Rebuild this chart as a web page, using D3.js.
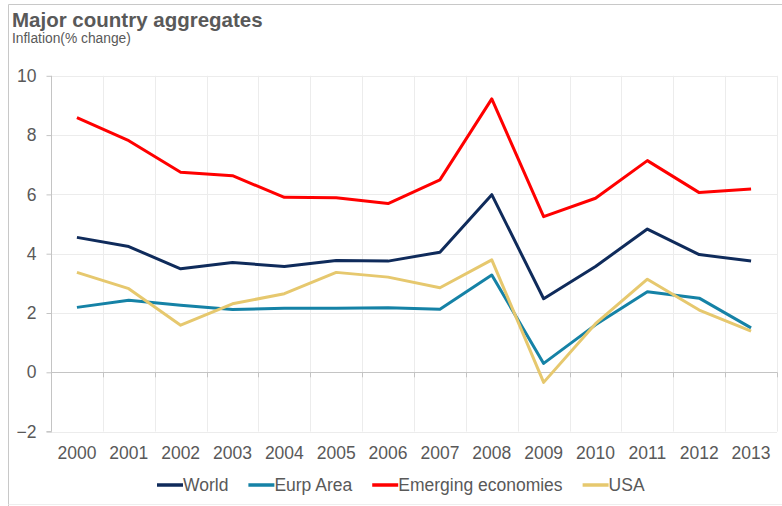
<!DOCTYPE html>
<html>
<head>
<meta charset="utf-8">
<script src="https://cdn.jsdelivr.net/npm/d3@7"></script>
<style>
  html, body { margin: 0; padding: 0; background: #fff; }
  svg { display: block; font-family: "Liberation Sans", Arial, sans-serif; }
</style>
</head>
<body>
<svg id="chart" width="782" height="506"></svg>
<script>
// Inflation, % change, by year
const years = ["2000","2001","2002","2003","2004","2005","2006","2007","2008","2009","2010","2011","2012","2013"];
const world    = [4.55, 4.24, 3.49, 3.70, 3.57, 3.77, 3.75, 4.05, 5.99, 2.48, 3.57, 4.83, 3.97, 3.75];
const eurpArea = [2.19, 2.43, 2.26, 2.12, 2.16, 2.16, 2.18, 2.13, 3.28, 0.30, 1.60, 2.72, 2.50, 1.50];
const emerging = [8.59, 7.81, 6.75, 6.63, 5.90, 5.89, 5.69, 6.49, 9.22, 5.25, 5.87, 7.14, 6.06, 6.18];
const usa      = [3.37, 2.82, 1.59, 2.31, 2.65, 3.37, 3.21, 2.85, 3.79, -0.34, 1.64, 3.14, 2.10, 1.39];
const yTicks   = [-2, 0, 2, 4, 6, 8, 10];

const series = [
  { name: "World",              values: world,    color: "#0f2b5b" },
  { name: "Eurp Area",          values: eurpArea, color: "#1582a6" },
  { name: "Emerging economies", values: emerging, color: "#ff0000" },
  { name: "USA",                values: usa,      color: "#e6c86e" }
];

const svg = d3.select("#chart");
const textColor = "#595959";
const gridColor = "#ececec";
const axisColor = "#c4c4c4";
const labelSize = 17.5;

// frame around the chart
svg.append("line").attr("x1", 8.5).attr("x2", 782).attr("y1", 4.5).attr("y2", 4.5)
  .attr("stroke", "#c8c8c8").attr("stroke-width", 1);
svg.append("line").attr("x1", 8.5).attr("x2", 8.5).attr("y1", 4.5).attr("y2", 506)
  .attr("stroke", "#c8c8c8").attr("stroke-width", 1);
svg.append("line").attr("x1", 8.5).attr("x2", 782).attr("y1", 504.5).attr("y2", 504.5)
  .attr("stroke", "#eeeeee").attr("stroke-width", 1);

// titles
svg.append("text").attr("x", 12).attr("y", 27)
  .attr("font-size", 20.5).attr("font-weight", "bold").attr("fill", textColor)
  .text("Major country aggregates");
svg.append("text").attr("x", 12).attr("y", 43)
  .attr("font-size", 13.8).attr("fill", textColor)
  .text("Inflation(% change)");

const x = d3.scaleBand().domain(years).range([51, 777]).padding(0);
const y = d3.scaleLinear().domain([-2, 10]).range([431.6, 75.8]);
const xc = d => x(d) + x.bandwidth() / 2;

const plot = svg.append("g");

// horizontal gridlines
plot.selectAll("line.hgrid").data(yTicks.filter(t => t !== 0)).join("line")
  .attr("class", "hgrid")
  .attr("x1", x.range()[0]).attr("x2", x.range()[1])
  .attr("y1", d => Math.round(y(d)) + 0.5).attr("y2", d => Math.round(y(d)) + 0.5)
  .attr("stroke", gridColor);

// vertical gridlines at category boundaries
const bounds = years.map(d => x(d)).concat([x.range()[1]]);
plot.selectAll("line.vgrid").data(bounds.slice(1)).join("line")
  .attr("class", "vgrid")
  .attr("x1", d => Math.round(d) + 0.5).attr("x2", d => Math.round(d) + 0.5)
  .attr("y1", y(10)).attr("y2", y(-2))
  .attr("stroke", gridColor);

// y axis
const yAxis = d3.axisLeft(y).tickValues(yTicks).tickSize(5).tickPadding(10);
const gy = plot.append("g").attr("transform", "translate(51.5,0)").call(yAxis);
gy.select(".domain").attr("stroke", axisColor).attr("d", `M-5,${y(-2)}H0V${y(10)}`);
gy.selectAll(".tick line").attr("stroke", axisColor);
gy.selectAll(".tick text").attr("font-size", labelSize).attr("fill", textColor)
  .attr("font-family", "'Liberation Sans', Arial, sans-serif");

// zero line with category tick marks
plot.append("line")
  .attr("x1", x.range()[0]).attr("x2", x.range()[1])
  .attr("y1", Math.round(y(0)) + 0.5).attr("y2", Math.round(y(0)) + 0.5)
  .attr("stroke", axisColor);
plot.selectAll("line.xtick").data(bounds.slice(1)).join("line")
  .attr("class", "xtick")
  .attr("x1", d => Math.round(d) + 0.5).attr("x2", d => Math.round(d) + 0.5)
  .attr("y1", y(0)).attr("y2", y(0) + 5)
  .attr("stroke", axisColor);

// category labels
plot.selectAll("text.xlab").data(years).join("text")
  .attr("class", "xlab")
  .attr("x", d => xc(d)).attr("y", 459)
  .attr("text-anchor", "middle")
  .attr("font-size", labelSize).attr("fill", textColor)
  .text(d => d);

// series lines
const line = d3.line().x((v, i) => xc(years[i])).y(v => y(v));
plot.selectAll("path.series").data(series).join("path")
  .attr("class", "series")
  .attr("d", d => line(d.values))
  .attr("fill", "none")
  .attr("stroke", d => d.color)
  .attr("stroke-width", 3)
  .attr("stroke-linejoin", "round");

// legend
const legend = svg.append("g").attr("transform", "translate(157,485)");
let lx = 0;
series.forEach(s => {
  const g = legend.append("g").attr("transform", `translate(${lx},0)`);
  g.append("line").attr("x1", 0).attr("x2", 26).attr("y1", 0).attr("y2", 0)
    .attr("stroke", s.color).attr("stroke-width", 3.5);
  const t = g.append("text").attr("x", 26).attr("y", 6)
    .attr("font-size", labelSize).attr("fill", textColor).text(s.name);
  lx += 26 + t.node().getComputedTextLength() + 20;
});
</script>
</body>
</html>
